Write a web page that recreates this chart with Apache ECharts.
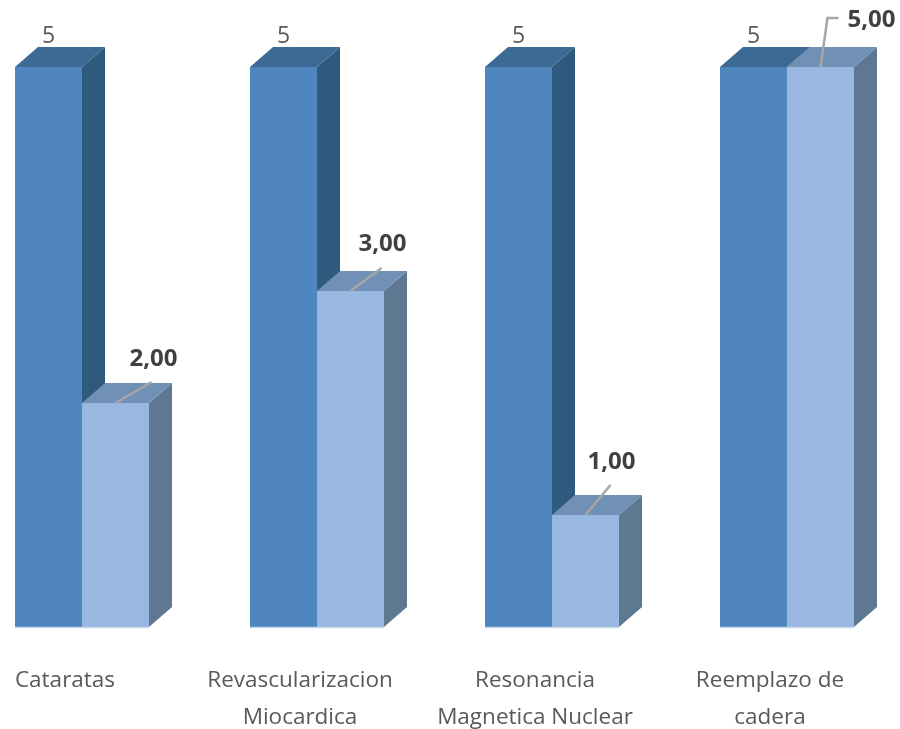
<!DOCTYPE html>
<html><head><meta charset="utf-8">
<style>html,body{margin:0;padding:0;background:#fff}#c{width:900px;height:729px}</style>
<script src="https://cdn.jsdelivr.net/npm/echarts@6/dist/echarts.min.js"></script>
</head><body><div id="c"></div>
<script>
const categories = ['Cataratas', 'Revascularizacion\nMiocardica', 'Resonancia\nMagnetica Nuclear', 'Reemplazo de\ncadera'];
const seriesA = [5, 5, 5, 5];
const seriesB = [2, 3, 1, 5];
const FONT = '"Open Sans",sans-serif';
const BAR = 67, DX = 23, DY = 20;
const darkC = {front:'#4F86BD', side:'#2F5A7E', top:'#3C6A95'};
const lightC = {front:'#98B8E2', side:'#5F7892', top:'#7190B5'};
// leader path and label anchor, relative to the top-centre of the light bar
const leaders = [
  {pts:[[0,0],[36,-21]], label:[38,-44]},
  {pts:[[0,0],[31,-23]], label:[32,-47]},
  {pts:[[0,0],[25,-30]], label:[26,-53]},
  {pts:[[0,0],[7,-49],[18,-49]], label:[51,-47]}
];
function box(x, yTop, yBase, c) {
  const x2 = x + BAR;
  return [
    {type:'polygon', shape:{points:[[x2,yTop],[x2+DX,yTop-DY],[x2+DX,yBase-DY],[x2,yBase]]}, style:{fill:c.side}},
    {type:'polygon', shape:{points:[[x,yTop],[x+DX,yTop-DY],[x2+DX,yTop-DY],[x2,yTop]]}, style:{fill:c.top}},
    {type:'rect', shape:{x:x, y:yTop, width:BAR, height:yBase-yTop}, style:{fill:c.front}},
    {type:'line', shape:{x1:x, y1:yBase+0.5, x2:x2, y2:yBase+0.5}, style:{stroke:'#C6D7EC', lineWidth:1.5}}
  ];
}
const chart = echarts.init(document.getElementById('c'), null, {renderer:'canvas'});
chart.setOption({
  animation:false,
  grid:{left:-35.5, width:940, top:67, bottom:102, outerBoundsMode:'none', containLabel:false},
  xAxis:{type:'category', data:categories,
    axisLine:{show:false}, axisTick:{show:false},
    axisLabel:{interval:0, margin:35, color:'#595959', fontFamily:FONT, fontSize:22.5, lineHeight:37, padding:[0,34,0,0], hideOverlap:false}},
  yAxis:{type:'value', min:0, max:5, interval:1, show:false},
  series:[{
    type:'custom', coordinateSystem:'cartesian2d', clip:false,
    data:categories.map((c,i)=>[i, seriesA[i], seriesB[i]]),
    encode:{x:0, y:[1,2]},
    renderItem(params, api){
      const i = api.value(0);
      const base = api.coord([i,0]);
      const topA = api.coord([i,api.value(1)]);
      const topB = api.coord([i,api.value(2)]);
      const cx = base[0];
      const L = leaders[i];
      const ax = cx + BAR/2, ay = topB[1];
      const children = [
        ...box(cx-BAR, topA[1], base[1], darkC),
        ...box(cx, topB[1], base[1], lightC),
        {type:'polyline', shape:{points:L.pts.map(p=>[ax+p[0], ay+p[1]])},
          style:{stroke:'#A6A6A6', lineWidth:2.5, fill:null, lineJoin:'miter'}},
        {type:'text', style:{x:cx-BAR/2, y:topA[1]-31, text:String(api.value(1)), fill:'#595959',
          font:'23px '+FONT, textAlign:'center', textVerticalAlign:'middle'}},
        {type:'text', style:{x:ax+L.label[0], y:ay+L.label[1], text:api.value(2).toFixed(2).replace('.',','), fill:'#404040',
          font:'bold 24px '+FONT, textAlign:'center', textVerticalAlign:'middle'}}
      ];
      return {type:'group', children};
    }
  }]
});
</script></body></html>
